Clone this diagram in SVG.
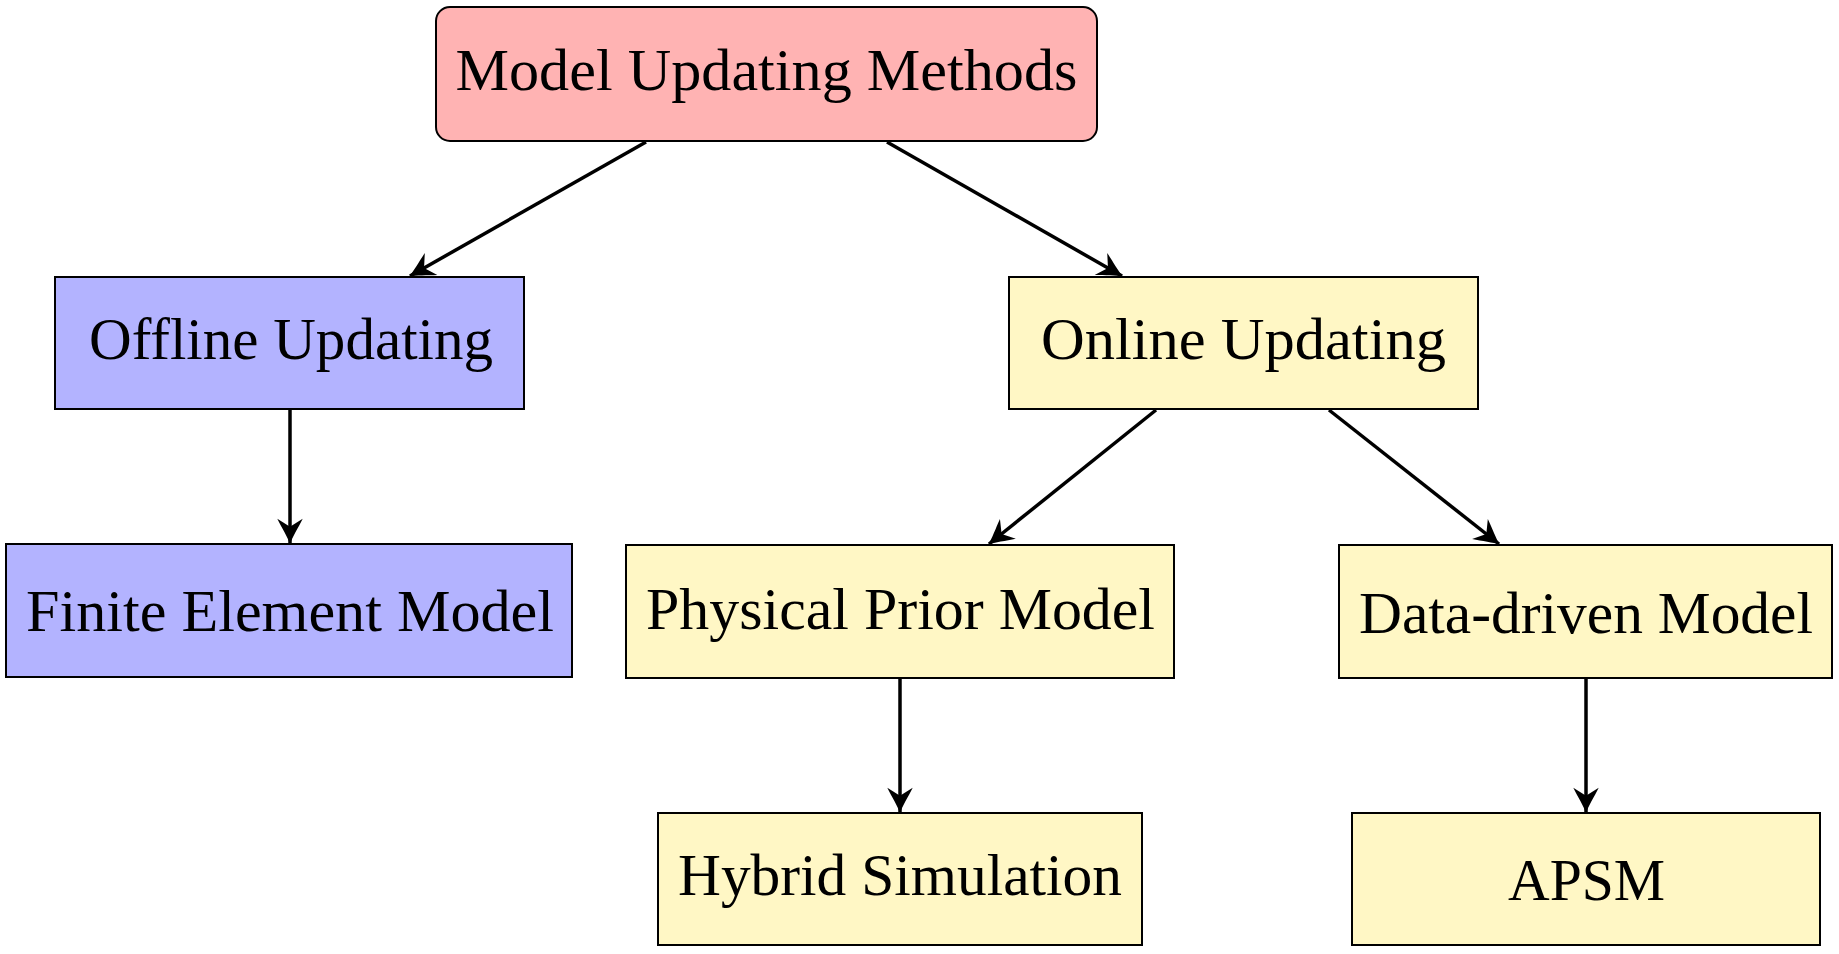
<svg xmlns="http://www.w3.org/2000/svg" width="1839" height="954" viewBox="0 0 1839 954">
<style>
.box{stroke:#000;stroke-width:2}
.pink{fill:#FFB3B3}
.blue{fill:#B3B3FF}
.yel{fill:#FFF7C5}
.lbl{font-family:"Liberation Serif","DejaVu Serif",serif;font-size:60px;fill:#000;text-anchor:middle}
.edge{stroke:#000;stroke-width:3.5;fill:none;marker-end:url(#ah)}
</style>
<defs>
<marker id="ah" markerUnits="userSpaceOnUse" markerWidth="30" markerHeight="30" viewBox="-24 -13 26 26" refX="0" refY="0" orient="auto">
<path d="M1,0 C-5,-2 -13,-7 -21,-11 L-14,0 L-21,11 C-13,7 -5,2 1,0 Z" fill="#000"/>
</marker>
</defs>
<rect width="1839" height="954" fill="#fff"/>
<g id="connectors">
<line class="edge" x1="646" y1="142" x2="410" y2="276"/>
<line class="edge" x1="887" y1="142" x2="1122" y2="276"/>
<line class="edge" x1="290" y1="410" x2="290" y2="543"/>
<line class="edge" x1="1156" y1="410" x2="989" y2="544"/>
<line class="edge" x1="1329" y1="410" x2="1499" y2="544"/>
<line class="edge" x1="900" y1="679" x2="900" y2="812"/>
<line class="edge" x1="1586" y1="679" x2="1586" y2="812"/>
</g>
<g id="n-root">
<rect class="box pink" x="436" y="7" width="661" height="134" rx="14"/>
<text class="lbl" x="766.5" y="90" textLength="622" lengthAdjust="spacingAndGlyphs">Model Updating Methods</text>
</g>
<g id="n-offline">
<rect class="box blue" x="55" y="277" width="469" height="132"/>
<text class="lbl" x="291" y="359" textLength="404" lengthAdjust="spacingAndGlyphs">Offline Updating</text>
</g>
<g id="n-online">
<rect class="box yel" x="1009" y="277" width="469" height="132"/>
<text class="lbl" x="1243.5" y="359" textLength="405" lengthAdjust="spacingAndGlyphs">Online Updating</text>
</g>
<g id="n-fem">
<rect class="box blue" x="6" y="544" width="566" height="133"/>
<text class="lbl" x="290" y="631" textLength="528" lengthAdjust="spacingAndGlyphs">Finite Element Model</text>
</g>
<g id="n-physical">
<rect class="box yel" x="626" y="545" width="548" height="133"/>
<text class="lbl" x="900.5" y="629" textLength="509" lengthAdjust="spacingAndGlyphs">Physical Prior Model</text>
</g>
<g id="n-data">
<rect class="box yel" x="1339" y="545" width="493" height="133"/>
<text class="lbl" x="1586" y="633" textLength="454" lengthAdjust="spacingAndGlyphs">Data-driven Model</text>
</g>
<g id="n-hybrid">
<rect class="box yel" x="658" y="813" width="484" height="132"/>
<text class="lbl" x="900" y="895" textLength="444" lengthAdjust="spacingAndGlyphs">Hybrid Simulation</text>
</g>
<g id="n-apsm">
<rect class="box yel" x="1352" y="813" width="468" height="132"/>
<text class="lbl" x="1586.5" y="900" textLength="157" lengthAdjust="spacingAndGlyphs">APSM</text>
</g>
</svg>
